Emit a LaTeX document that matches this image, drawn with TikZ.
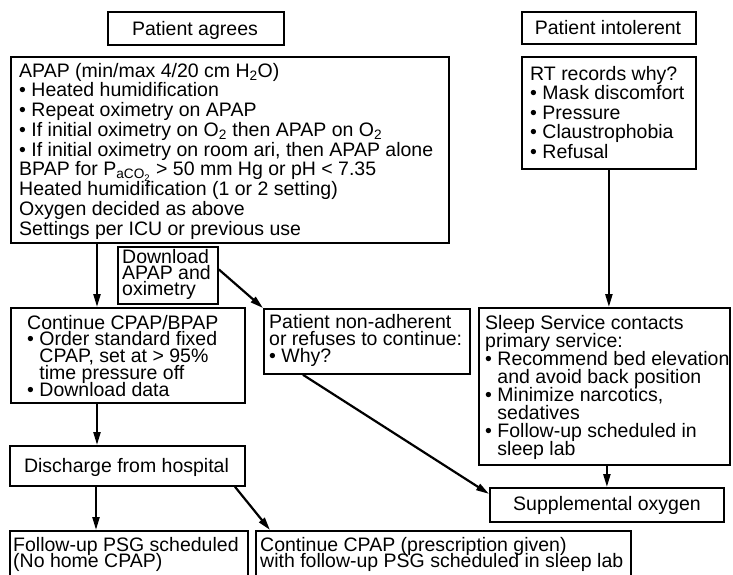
\documentclass[tikz,border=0pt]{standalone}
\usepackage{fontspec}
\setmainfont{Liberation Sans}
\usetikzlibrary{arrows.meta}
\newcommand{\blk}[2]{\vtop{\baselineskip=#1\lineskiplimit=-100pt\lineskip=0pt\relax #2}}
\newcommand{\ind}{\hphantom{•\ }}
\tikzset{
  box/.style={draw, line width=1.8pt, inner sep=0pt, anchor=north west},
  txt/.style={inner sep=0pt, font=\fontsize{19.5}{20}\selectfont},
  arr/.style={line width=2.2pt, -{Triangle[length=13pt,width=7pt]}}
}
\begin{document}
\begin{tikzpicture}[x=1pt,y=-1pt]
\useasboundingbox (0,0) rectangle (733,574);
\fill[white] (0,0) rectangle (733,574);
\clip (0,0) rectangle (733,574);
% boxes
\node[box, minimum width=176pt, minimum height=33pt] (agrees) at (107,11) {};
\node[box, minimum width=174pt, minimum height=32pt] (intol) at (521,11) {};
\node[box, minimum width=438pt, minimum height=186pt] (apap) at (10,56) {};
\node[box, minimum width=174pt, minimum height=112pt] (rt) at (521,56) {};
\node[box, minimum width=100pt, minimum height=57pt] (dl) at (117,246) {};
\node[box, minimum width=234pt, minimum height=95pt] (cont) at (10,307) {};
\node[box, minimum width=206pt, minimum height=65pt] (nonadh) at (263,308) {};
\node[box, minimum width=251pt, minimum height=157pt] (sleep) at (478,307) {};
\node[box, minimum width=234pt, minimum height=34pt] (supp) at (489,487) {};
\node[box, minimum width=235pt, minimum height=40pt] (disch) at (9,445) {};
\node[box, minimum width=238pt, minimum height=70pt] (fu) at (9,530) {};
\node[box, minimum width=375pt, minimum height=70pt] (cpsg) at (255,530) {};
% texts
\node[txt, anchor=base] (agreesT) at (195,35) {Patient agrees};
\node[txt, anchor=base] (intolT) at (608,34) {Patient intolerent};
\node[txt, anchor=base] (suppT) at (607,510) {Supplemental oxygen};
\node[txt, anchor=base] (dischT) at (126.5,472) {Discharge from hospital};
\node[txt, anchor=base west] (apapT) at (19,77) {\blk{19.75pt}{%
  \hbox{APAP (min/max 4/20 cm H\textsubscript{2}O)}%
  \hbox{• Heated humidification}%
  \hbox{• Repeat oximetry on APAP}%
  \hbox{• If initial oximetry on O\textsubscript{2} then APAP on O\textsubscript{2}}%
  \hbox{• If initial oximetry on room ari, then APAP alone}%
  \hbox{BPAP for P\textsubscript{aCO\textsubscript{2}} > 50 mm Hg or pH < 7.35}%
  \hbox{Heated humidification (1 or 2 setting)}%
  \hbox{Oxygen decided as above}%
  \hbox{Settings per ICU or previous use}}};
\node[txt, anchor=base west] (rtT) at (530,80) {\blk{19.5pt}{%
  \hbox{RT records why?}%
  \hbox{• Mask discomfort}%
  \hbox{• Pressure}%
  \hbox{• Claustrophobia}%
  \hbox{• Refusal}}};
\node[txt, anchor=base west] (dlT) at (122,263) {\blk{16pt}{%
  \hbox{Download}%
  \hbox{APAP and}%
  \hbox{oximetry}}};
\node[txt, anchor=base west] (contT) at (27,329) {\blk{16.75pt}{%
  \hbox{Continue CPAP/BPAP}%
  \hbox{• Order standard fixed}%
  \hbox{\ind CPAP, set at > 95\%}%
  \hbox{\ind time pressure off}%
  \hbox{• Download data}}};
\node[txt, anchor=base west] (nonadhT) at (269,328) {\blk{17pt}{%
  \hbox{Patient non-adherent}%
  \hbox{or refuses to continue:}%
  \hbox{• Why?}}};
\node[txt, anchor=base west] (sleepT) at (485,329) {\blk{18pt}{%
  \hbox{Sleep Service contacts}%
  \hbox{primary service:}%
  \hbox{• Recommend bed elevation}%
  \hbox{\ind and avoid back position}%
  \hbox{• Minimize narcotics,}%
  \hbox{\ind sedatives}%
  \hbox{• Follow-up scheduled in}%
  \hbox{\ind sleep lab}}};
\node[txt, anchor=base west] (fuT) at (13,551) {\blk{16pt}{%
  \hbox{Follow-up PSG scheduled}%
  \hbox{(No home CPAP)}}};
\node[txt, anchor=base west] (cpsgT) at (260,551) {\blk{16pt}{%
  \hbox{Continue CPAP (prescription given)}%
  \hbox{with follow-up PSG scheduled in sleep lab}}};
% connectors
\draw[arr] ([xshift=87pt]apap.south west) -- ([xshift=87pt]cont.north west);
\draw[arr] ([yshift=6pt]dl.east) -- (nonadh.north west);
\draw[arr] ([xshift=40pt]nonadh.south west) -- ([yshift=11pt]supp.west);
\draw[arr] (rt.south) -- (rt.south |- sleep.north);
\draw[arr] (supp.north |- sleep.south) -- (supp.north);
\draw[arr] ([xshift=87pt]cont.south west) -- ([xshift=88pt]disch.north west);
\draw[arr] ([xshift=87pt]disch.south west) -- ([xshift=87pt]fu.north west);
\draw[arr] ([xshift=226pt]disch.south west) -- ([xshift=15pt]cpsg.north west);
\end{tikzpicture}
\end{document}
